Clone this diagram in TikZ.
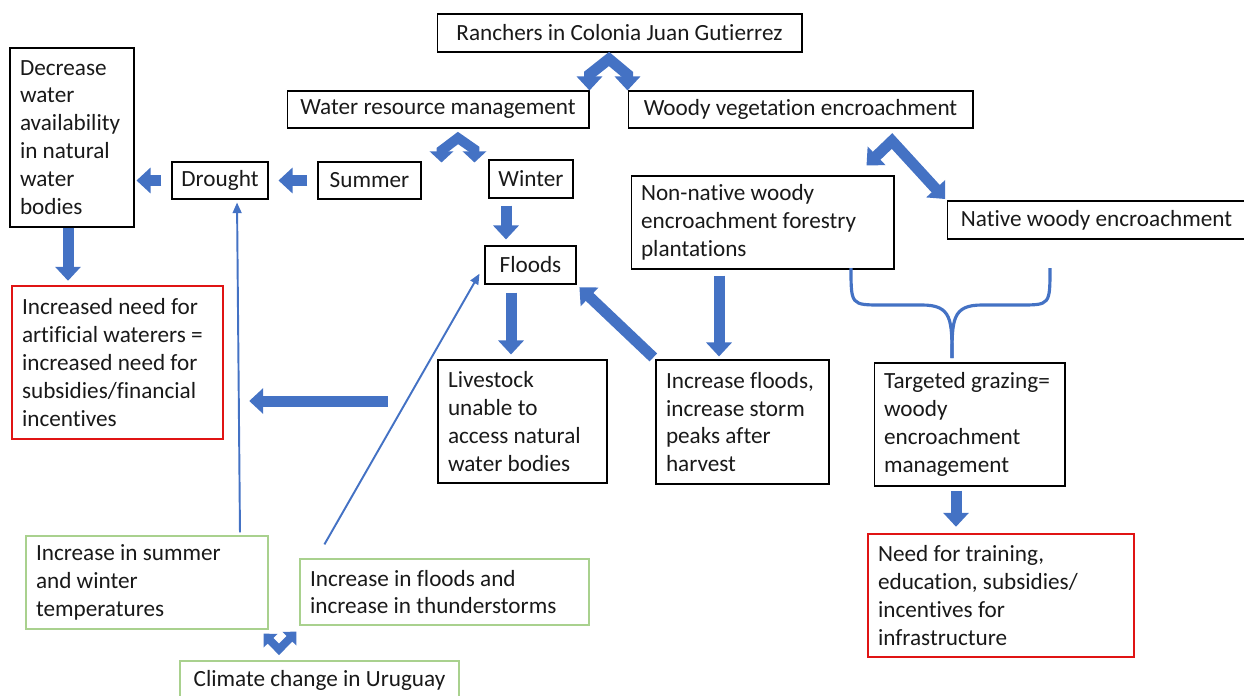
\documentclass[tikz,border=0pt]{standalone}
\usepackage{fontspec}
\setmainfont{Carlito}[Ligatures=NoCommon]
\usetikzlibrary{arrows.meta,positioning}
\definecolor{arrowblue}{RGB}{68,114,196}
\definecolor{boxred}{RGB}{224,20,20}
\definecolor{boxgreen}{RGB}{169,209,142}

\begin{document}
\begin{tikzpicture}[x=0.02cm,y=-0.02cm,
  font=\fontsize{13.2}{15.9}\selectfont,
  box/.style={draw,line width=0.6pt,inner sep=0pt,text=black!90},
  tbox/.style={draw,line width=0.6pt,inner xsep=0.2cm,inner ysep=0pt,align=flush left,text=black!90},
  redbox/.style={draw=boxred,line width=1.4pt},
  greenbox/.style={draw=boxgreen,line width=0.7pt},
  fat/.style={draw=arrowblue,line width=0.22cm,-{Triangle[width=0.5cm,length=0.28cm]}},
  dbl/.style={draw=arrowblue,line width=0.22cm,line join=miter,{Triangle[width=0.5cm,length=0.28cm]}-{Triangle[width=0.5cm,length=0.28cm]}},
  middbl/.style={draw=arrowblue,line width=0.2cm,line join=miter,{Triangle[width=0.46cm,length=0.22cm]}-{Triangle[width=0.46cm,length=0.22cm]}},
  smalldbl/.style={draw=arrowblue,line width=0.16cm,line join=miter,{Triangle[width=0.38cm,length=0.2cm]}-{Triangle[width=0.38cm,length=0.2cm]}},
  slim/.style={draw=arrowblue,line width=1.1pt,-{Triangle[width=5pt,length=6pt]}},
  brace/.style={draw=arrowblue,line width=1.8pt}]
\useasboundingbox (0,0) rectangle (1244,696);

\node[box,minimum width=7.30cm,minimum height=0.76cm] (ranch) at (619.5,33) {Ranchers in Colonia Juan Gutierrez};
\node[box,minimum width=6.04cm,minimum height=0.74cm] (water) at (438,109.5) {Water resource management};
\node[box,minimum width=6.90cm,minimum height=0.74cm] (woody) at (800.5,109.5) {Woody vegetation encroachment};
\node[tbox,text width=2.08cm,minimum height=3.58cm] (decr) at (72,137.5) {Decrease\\water\\availability\\in natural\\water\\bodies};
\node[box,minimum width=1.92cm,minimum height=0.74cm] (drought) at (220,180.5) {Drought};
\node[box,minimum width=2.06cm,minimum height=0.74cm] (summer) at (369.5,180.5) {Summer};
\node[box,minimum width=1.68cm,minimum height=0.76cm] (winter) at (531,179) {Winter};
\node[box,minimum width=1.82cm,minimum height=0.76cm] (floods) at (530.5,265) {Floods};
\node[tbox,text width=4.86cm,minimum height=1.86cm] (nonnat) at (762.5,222.5) {Non-native woody\\encroachment forestry\\plantations};
\node[box,minimum width=5.98cm,minimum height=0.76cm] (native) at (1096.5,220) {Native woody encroachment};
\node[tbox,redbox,text width=3.82cm,minimum height=3.06cm] (need) at (117.5,362.5) {Increased need for\\artificial waterers =\\increased need for\\subsidies/financial\\incentives};
\node[tbox,text width=2.98cm,minimum height=2.46cm] (stock) at (522.5,421.5) {Livestock\\unable to\\access natural\\water bodies};
\node[tbox,text width=3.06cm,minimum height=2.48cm] (storm) at (742.5,422) {Increase floods,\\increase storm\\peaks after\\harvest};
\node[tbox,text width=3.42cm,minimum height=2.46cm] (graze) at (969.5,424.5) {Targeted grazing=\\woody\\encroachment\\management};
\node[tbox,redbox,text width=4.92cm,minimum height=2.46cm] (train) at (1001,595.5) {Need for training,\\education, subsidies/\\incentives for\\infrastructure};
\node[tbox,greenbox,text width=4.44cm,minimum height=1.86cm] (temp) at (147,582.5) {Increase in summer\\and winter\\temperatures};
\node[tbox,greenbox,text width=5.38cm,minimum height=1.32cm] (storms) at (444.5,592) {Increase in floods and\\increase in thunderstorms};
\node[box,greenbox,minimum width=5.58cm,minimum height=0.76cm] (climate) at (319.5,680) {Climate change in Uruguay};

\coordinate (rtop) at (609,59);
\coordinate (wtop) at (458,138);
\coordinate (vtop) at (892,141);
\draw[dbl] (water.north east) -- ++(0,-16) -- (rtop) -- ([yshift=0.32cm]woody.north west) -- (woody.north west);
\draw[middbl] ([xshift=0.4cm,yshift=-0.02cm]summer.north east) -- ++(0,-12) -- (wtop) -- ([xshift=-0.28cm,yshift=0.2cm]winter.north west) -- ([xshift=-0.28cm,yshift=-0.06cm]winter.north west);
\draw[dbl,shorten >=0.04cm] ([xshift=-0.56cm,yshift=0.2cm]nonnat.north east) -- (vtop) -- (native.north west);
\draw[smalldbl] ([xshift=-0.1cm,yshift=-0.08cm]temp.south east) -- ([xshift=-0.81cm,yshift=0.22cm]climate.north) -- ([xshift=-0.06cm,yshift=-0.12cm]storms.south west);

\draw[fat,shorten <=0.2cm,shorten >=0.2cm] (summer.west) -- (drought.east);
\draw[fat,shorten <=0.2cm,shorten >=0.04cm] (drought.west) -- (drought.west -| decr.east);
\draw[fat,shorten <=0.14cm,shorten >=0.12cm] ([xshift=-0.5cm]winter.south) -- ([xshift=-0.5cm]winter.south |- floods.north);
\draw[fat,shorten >=0.08cm] ([xshift=-0.08cm]decr.south) -- ([xshift=-0.08cm]decr.south |- need.north);
\draw[fat,shorten <=0.16cm,shorten >=0.1cm] ([xshift=-0.39cm]floods.south) -- ([xshift=-0.39cm]floods.south |- stock.north);
\draw[fat,shorten <=0.12cm,shorten >=0.06cm] ([xshift=-0.87cm]nonnat.south) -- ([xshift=-0.87cm]nonnat.south |- storm.north);
\draw[fat,shorten <=0.06cm,shorten >=0.08cm] (storm.north west) -- (floods.south east);
\draw[fat,shorten <=1cm,shorten >=0.5cm] ([yshift=0.41cm]stock.west) -- ([yshift=0.41cm]stock.west -| need.east);
\draw[fat,shorten <=0.08cm,shorten >=0.12cm] ([xshift=-0.27cm]graze.south) -- ([xshift=-0.27cm]graze.south |- train.north);

\draw[slim,shorten >=0.06cm] ([xshift=1.86cm,yshift=0.06cm]temp.north) -- ([xshift=0.34cm]drought.south);
\draw[slim,shorten >=0.2cm] ([xshift=0.5cm,yshift=0.28cm]storms.north west) -- (floods.west);

\draw[brace] (851,268) .. controls (851,305) .. (882,305) -- (922,305) .. controls (952,305) and (952,320) .. (952,358);
\draw[brace] (1050,268) .. controls (1050,305) .. (1020,305) -- (982,305) .. controls (952,305) and (952,320) .. (952,358);
\end{tikzpicture}
\end{document}
